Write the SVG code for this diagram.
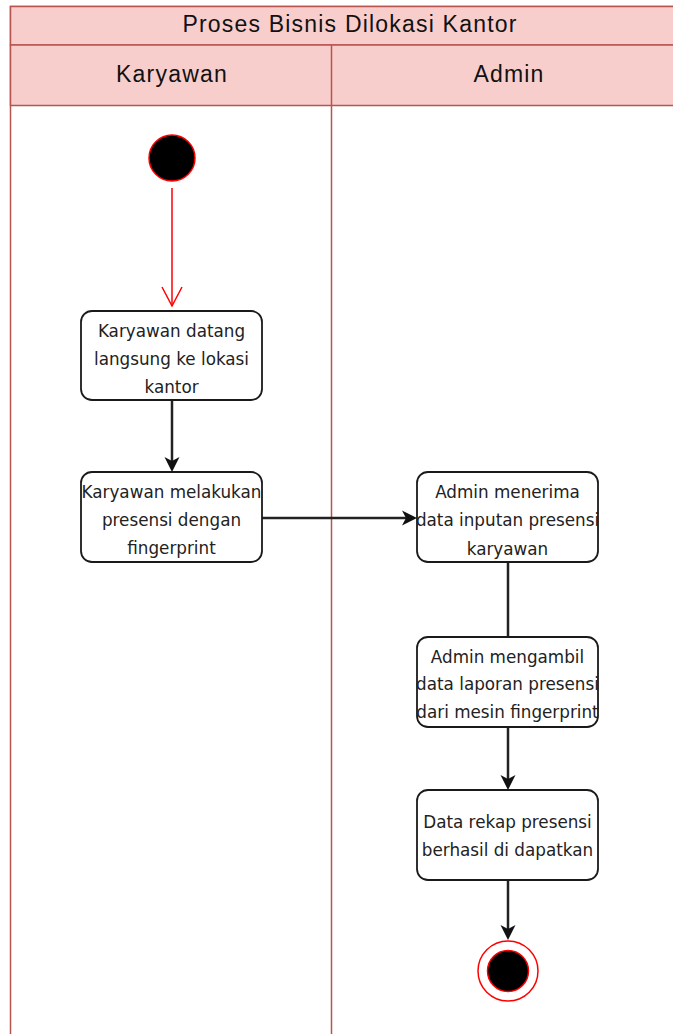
<svg xmlns="http://www.w3.org/2000/svg" width="673" height="1034" viewBox="0 0 673 1034">
<style>
.lane{fill:#ffffff;stroke:#b85450;stroke-width:1.5}
.band{fill:#f8cecc;stroke:#b85450;stroke-width:1.5}
.hd{font-family:"Liberation Sans",Arial,sans-serif;font-size:23px;fill:#111;text-anchor:middle;letter-spacing:1.2px}
.box{fill:#ffffff;stroke:#1a1a1a;stroke-width:1.8}
.t{font-family:"DejaVu Sans",Verdana,sans-serif;font-size:16.8px;fill:#222;text-anchor:middle}
.edge{fill:none;stroke:#222;stroke-width:2.5}
</style>
<defs>
<marker id="blk" markerUnits="userSpaceOnUse" markerWidth="16" markerHeight="16" refX="4" refY="7.5" orient="auto" overflow="visible">
<path d="M0,0 L15,7.5 L0,15 L4,7.5 Z" fill="#111" stroke="none"/>
</marker>
<marker id="open" markerUnits="userSpaceOnUse" markerWidth="22" markerHeight="22" refX="19" refY="10" orient="auto" overflow="visible">
<path d="M0,0 L19,10 L0,20" fill="none" stroke="#ff0000" stroke-width="1.5"/>
</marker>
</defs>
<g id="pool">
<rect class="lane" x="10.5" y="6.5" width="680" height="1040"/>
<rect class="band" x="10.5" y="6.5" width="680" height="38.5"/>
<rect class="band" x="10.5" y="45" width="680" height="60.5"/>
<line x1="331.5" y1="45" x2="331.5" y2="1040" stroke="#b85450" stroke-width="1.5"/>
<text class="hd" x="350" y="32">Proses Bisnis Dilokasi Kantor</text>
<text class="hd" x="172" y="82">Karyawan</text>
<text class="hd" x="509" y="82">Admin</text>
</g>
<g id="connectors">
<line x1="172" y1="188" x2="172" y2="306" stroke="#ff0000" stroke-width="1.5" marker-end="url(#open)"/>
<line class="edge" x1="172" y1="400" x2="172" y2="461" marker-end="url(#blk)"/>
<line class="edge" x1="262" y1="518" x2="406" y2="518" stroke="#333" marker-end="url(#blk)"/>
<line class="edge" x1="508" y1="562" x2="508" y2="637" stroke="#555"/>
<line class="edge" x1="508" y1="727" x2="508" y2="779" stroke="#333" marker-end="url(#blk)"/>
<line class="edge" x1="508" y1="880" x2="508" y2="929" marker-end="url(#blk)"/>
</g>
<g id="start">
<circle cx="172" cy="158" r="23" fill="#000" stroke="#ff0000" stroke-width="1.5"/>
</g>
<g id="a1">
<rect class="box" x="81" y="311" width="181" height="89" rx="11"/>
<text class="t" x="171.5" y="337">Karyawan datang</text>
<text class="t" x="171.5" y="365">langsung ke lokasi</text>
<text class="t" x="171.5" y="393">kantor</text>
</g>
<g id="a2">
<rect class="box" x="81" y="472" width="181" height="90" rx="11"/>
<text class="t" x="171.5" y="498">Karyawan melakukan</text>
<text class="t" x="171.5" y="526">presensi dengan</text>
<text class="t" x="171.5" y="554">fingerprint</text>
</g>
<g id="a3">
<rect class="box" x="417" y="472" width="181" height="90" rx="11"/>
<text class="t" x="507.5" y="498">Admin menerima</text>
<text class="t" x="507.5" y="526">data inputan presensi</text>
<text class="t" x="507.5" y="555">karyawan</text>
</g>
<g id="a4">
<rect class="box" x="417" y="637" width="181" height="90" rx="11"/>
<text class="t" x="507.5" y="663">Admin mengambil</text>
<text class="t" x="507.5" y="690">data laporan presensi</text>
<text class="t" x="507.5" y="718">dari mesin fingerprint</text>
</g>
<g id="a5">
<rect class="box" x="417" y="790" width="181" height="90" rx="11"/>
<text class="t" x="507.5" y="828">Data rekap presensi</text>
<text class="t" x="507.5" y="856">berhasil di dapatkan</text>
</g>
<g id="end">
<circle cx="508" cy="971" r="30" fill="#fff" stroke="#ff0000" stroke-width="1.5"/>
<circle cx="508" cy="971" r="20.5" fill="#000" stroke="#ff0000" stroke-width="1.5"/>
</g>
</svg>
